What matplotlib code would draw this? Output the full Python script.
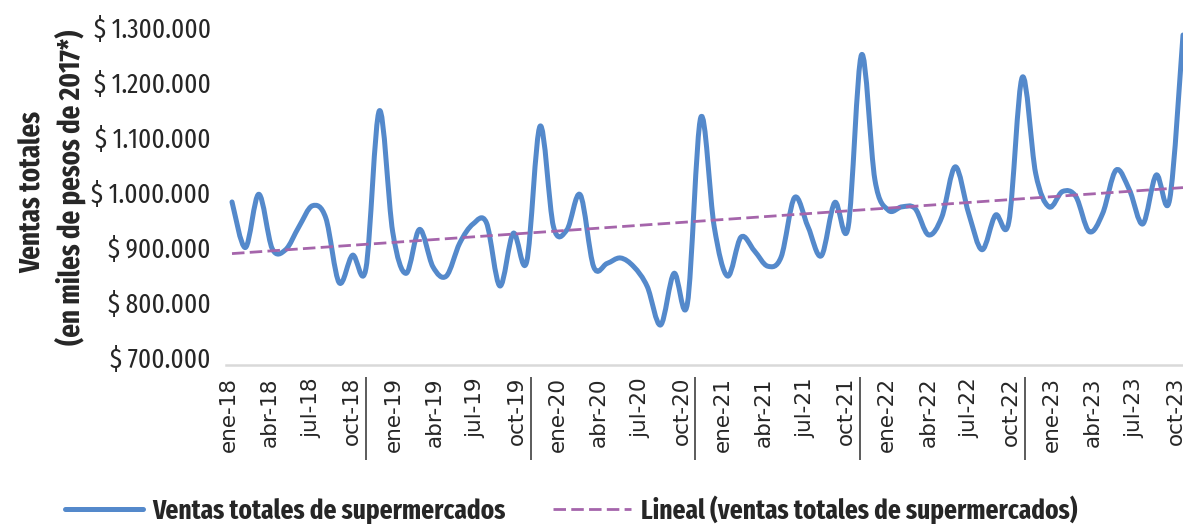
import numpy as np
import matplotlib
matplotlib.use("Agg")
import matplotlib.pyplot as plt
from matplotlib.path import Path
from matplotlib.patches import PathPatch
from matplotlib.lines import Line2D
from matplotlib.transforms import ScaledTranslation

# monthly totals, ene-18 .. dic-23 (miles de pesos de 2017)
ventas = [
    996000, 913000, 1010000, 911000, 909000, 951000, 989000, 967000, 849000, 899000, 875000, 1162000,
    941000, 866000, 946000, 878000, 861000, 921000, 956000, 958000, 843000, 939000, 887000, 1134000,
    951000, 945000, 1009000, 878000, 884000, 894000, 878000, 842000, 772000, 866000, 811000, 1150000,
    951000, 861000, 932000, 907000, 879000, 896000, 1004000, 951000, 898000, 995000, 950000, 1264000,
    1036000, 981000, 987000, 984000, 936000, 969000, 1060000, 975000, 909000, 972000, 960000, 1223000,
    1048000, 987000, 1015000, 1006000, 942000, 975000, 1054000, 1018000, 956000, 1045000, 1000000, 1300000,
]

x_labels = [
    "ene-18", "abr-18", "jul-18", "oct-18", "ene-19", "abr-19", "jul-19", "oct-19",
    "ene-20", "abr-20", "jul-20", "oct-20", "ene-21", "abr-21", "jul-21", "oct-21",
    "ene-22", "abr-22", "jul-22", "oct-22", "ene-23", "abr-23", "jul-23", "oct-23",
]
y_ticks = [700000, 800000, 900000, 1000000, 1100000, 1200000, 1300000]
y_labels = ["$ 700.000", "$ 800.000", "$ 900.000", "$ 1.000.000",
            "$ 1.100.000", "$ 1.200.000", "$ 1.300.000"]

serie_label = "Ventas totales de supermercados"
trend_label = "Lineal (ventas totales de supermercados)"

BLUE = "#5489cb"
PURPLE = "#a565ab"
TXT = "#262626"
NARROW = ["Fira Sans Extra Condensed", "Liberation Sans", "DejaVu Sans"]
W, H = 1183, 524


def smooth_path(x, y):
    # bezier through every point, excel style smoothing
    pts = np.column_stack([x, y]).astype(float)
    ext = np.vstack([pts[0], pts, pts[-1]])
    verts = [pts[0]]
    codes = [Path.MOVETO]
    for k in range(len(pts) - 1):
        p0, p1, p2, p3 = ext[k], ext[k + 1], ext[k + 2], ext[k + 3]
        verts += [p1 + (p2 - p0) / 6, p2 - (p3 - p1) / 6, p2]
        codes += [Path.CURVE4] * 3
    return Path(verts, codes)


fig = plt.figure(figsize=(W / 100, H / 100), dpi=100)
ax = fig.add_axes([226 / W, 1 - 364.5 / H, 1 - 226 / W, 364.5 / H])

x = np.arange(len(ventas))
y = np.array(ventas, dtype=float)

ax.add_patch(PathPatch(smooth_path(x, y), fill=False, edgecolor=BLUE, lw=3.6,
                       capstyle="round", joinstyle="round", zorder=3))

coef = np.polyfit(x, y, 1)
ends = x[[0, -1]]
ax.plot(ends, np.polyval(coef, ends), color=PURPLE, lw=2, dashes=(4.5, 1.9), zorder=4)

ax.set_xlim(-0.448, 71.0)
ax.set_ylim(700000, 1363750)
ax.set_xticks([])
ax.set_yticks(y_ticks)
ax.set_yticklabels(y_labels, family=NARROW)
ax.tick_params(axis="y", length=0, pad=11, labelsize=19.6, labelcolor=TXT)
shift = ScaledTranslation(0, 7.5 / 100, fig.dpi_scale_trans)
for lab in ax.get_yticklabels():
    lab.set_transform(lab.get_transform() + shift)

for side in ["top", "left", "right"]:
    ax.spines[side].set_visible(False)
ax.spines["bottom"].set_color("#d9d9d9")
ax.spines["bottom"].set_linewidth(1.8)

# category labels sit on their own scale
ax_lab = ax.twiny()
ax_lab.set_xlim(-0.2, 69.55)
ax_lab.xaxis.set_ticks_position("bottom")
ax_lab.set_xticks(range(0, 72, 3))
ax_lab.set_xticklabels(x_labels, rotation=90, fontsize=15.5, family="DejaVu Sans", color=TXT)
ax_lab.tick_params(axis="x", length=0, pad=9)
for side in ax_lab.spines:
    ax_lab.spines[side].set_visible(False)
ax_lab.vlines([10, 22, 34, 46, 58], -0.034, -0.262, transform=ax_lab.get_xaxis_transform(),
              colors="#404040", lw=1.2, clip_on=False)

fig.text(33 / W, 1 - 192 / H, "Ventas totales", rotation=90, ha="center", va="center",
         fontsize=21, weight="bold", family=NARROW, color=TXT)
fig.text(70 / W, 1 - 187 / H, "(en miles de pesos de 2017*)", rotation=90, ha="center",
         va="center", fontsize=21, weight="bold", family=NARROW, color=TXT)

handles = [
    Line2D([], [], color=BLUE, lw=3.6, solid_capstyle="round"),
    Line2D([], [], color=PURPLE, lw=2, dashes=(4.5, 1.9)),
]
fig.legend(handles, [serie_label, trend_label], loc="center", bbox_to_anchor=(571 / W, 1 - 510 / H),
           ncol=2, frameon=False, prop={"family": NARROW, "weight": "bold", "size": 19.8},
           labelcolor=TXT, handlelength=2.84, handletextpad=0.36, columnspacing=1.71,
           borderpad=0, borderaxespad=0)

fig.savefig("out.png", dpi=100)
